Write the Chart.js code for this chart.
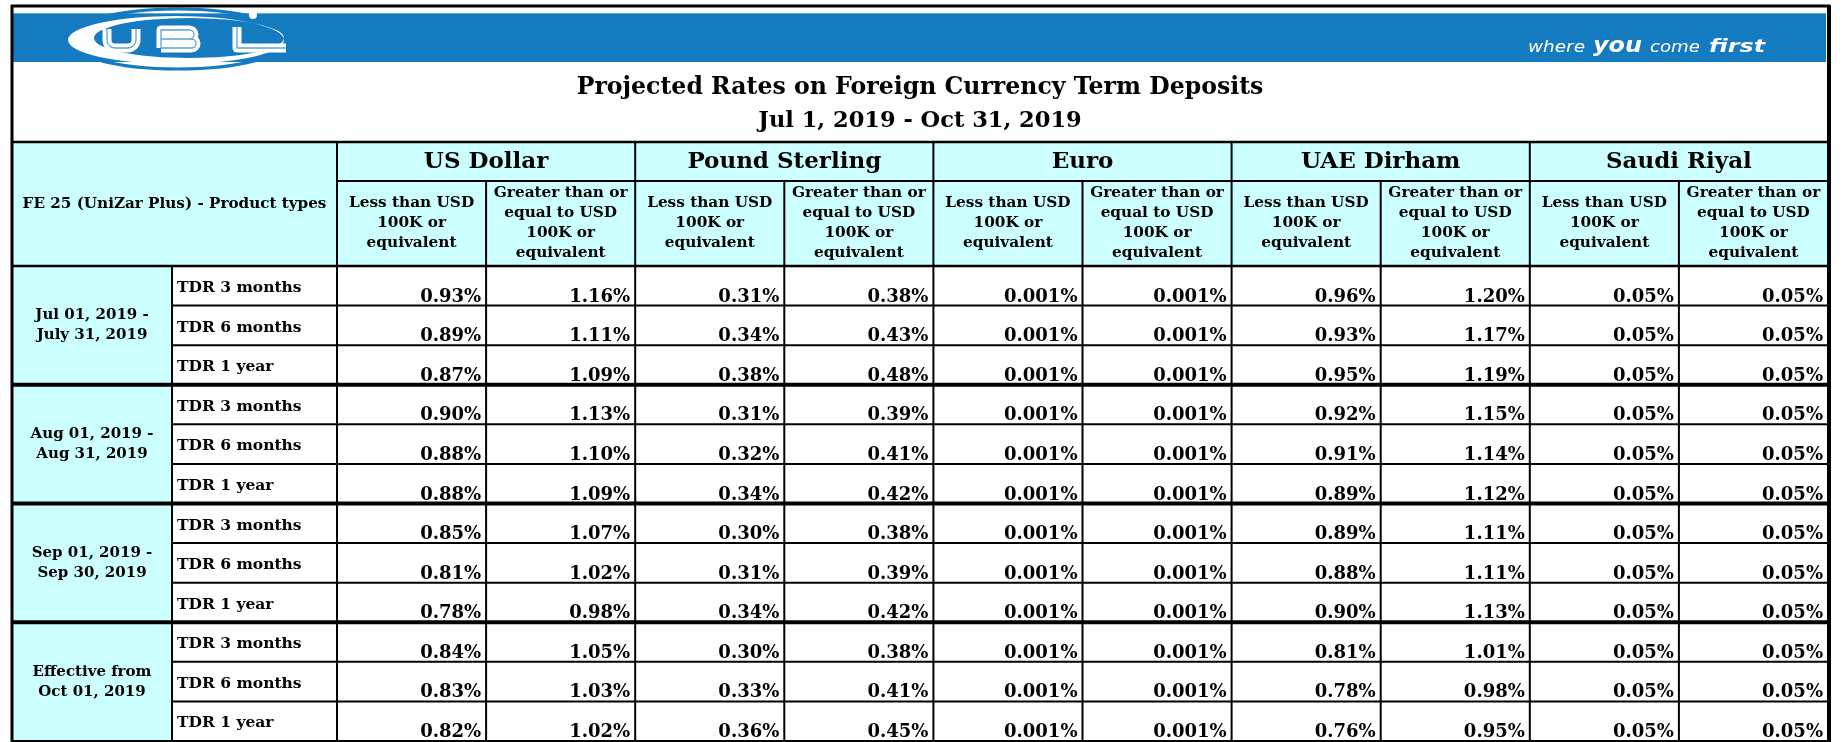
<!DOCTYPE html>
<html>
<head>
<meta charset="utf-8">
<script src="https://cdn.jsdelivr.net/npm/chart.js@4.4.1/dist/chart.umd.min.js"></script>
<style>
  html, body { margin: 0; padding: 0; background: #fff; }
  canvas { display: block; }
</style>
</head>
<body>
<canvas id="chart-1" width="1843" height="742"></canvas>
<script>
// Table data
const title = "Projected Rates on Foreign Currency Term Deposits";
const subtitle = "Jul 1, 2019 - Oct 31, 2019";
const cornerLabel = "FE 25 (UniZar Plus) - Product types";
const currencies = ["US Dollar", "Pound Sterling", "Euro", "UAE Dirham", "Saudi Riyal"];
const tiers = [
  ["Less than USD", "100K or", "equivalent"],
  ["Greater than or", "equal to USD", "100K or", "equivalent"],
];
const periods = [
  ["Jul 01, 2019 -", "July 31, 2019"],
  ["Aug 01, 2019 -", "Aug 31, 2019"],
  ["Sep 01, 2019 -", "Sep 30, 2019"],
  ["Effective from", "Oct 01, 2019"],
];
const tenors = ["TDR 3 months", "TDR 6 months", "TDR 1 year"];

// one array per column, 12 rows (4 periods x 3 tenors)
const usdLess = [0.93, 0.89, 0.87, 0.90, 0.88, 0.88, 0.85, 0.81, 0.78, 0.84, 0.83, 0.82];
const usdMore = [1.16, 1.11, 1.09, 1.13, 1.10, 1.09, 1.07, 1.02, 0.98, 1.05, 1.03, 1.02];
const gbpLess = [0.31, 0.34, 0.38, 0.31, 0.32, 0.34, 0.30, 0.31, 0.34, 0.30, 0.33, 0.36];
const gbpMore = [0.38, 0.43, 0.48, 0.39, 0.41, 0.42, 0.38, 0.39, 0.42, 0.38, 0.41, 0.45];
const eurLess = [0.001, 0.001, 0.001, 0.001, 0.001, 0.001, 0.001, 0.001, 0.001, 0.001, 0.001, 0.001];
const eurMore = [0.001, 0.001, 0.001, 0.001, 0.001, 0.001, 0.001, 0.001, 0.001, 0.001, 0.001, 0.001];
const aedLess = [0.96, 0.93, 0.95, 0.92, 0.91, 0.89, 0.89, 0.88, 0.90, 0.81, 0.78, 0.76];
const aedMore = [1.20, 1.17, 1.19, 1.15, 1.14, 1.12, 1.11, 1.11, 1.13, 1.01, 0.98, 0.95];
const sarLess = [0.05, 0.05, 0.05, 0.05, 0.05, 0.05, 0.05, 0.05, 0.05, 0.05, 0.05, 0.05];
const sarMore = [0.05, 0.05, 0.05, 0.05, 0.05, 0.05, 0.05, 0.05, 0.05, 0.05, 0.05, 0.05];

const columns = [usdLess, usdMore, gbpLess, gbpMore, eurLess, eurMore, aedLess, aedMore, sarLess, sarMore];

const BLUE = "#157bc0";
const CYAN = "#ccffff";
const SERIF = '"DejaVu Serif", serif';

let fmt = (v) => (v < 0.01 ? v.toFixed(3) : v.toFixed(2)) + "%";

let line = (ctx, x1, y1, x2, y2, w) => {
  ctx.beginPath();
  ctx.lineWidth = w;
  ctx.strokeStyle = "#000";
  ctx.moveTo(x1, y1);
  ctx.lineTo(x2, y2);
  ctx.stroke();
};

let word = (ctx, text, font, left, width, base) => {
  ctx.save();
  ctx.font = font;
  let w = ctx.measureText(text).width;
  ctx.translate(left, base);
  ctx.scale(width / w, 1);
  ctx.textAlign = "left";
  ctx.textBaseline = "alphabetic";
  ctx.fillText(text, 0, 0);
  ctx.restore();
};

let drawBanner = (ctx) => {
  // blue band
  ctx.fillStyle = BLUE;
  ctx.fillRect(12, 13, 1814, 49);
  ctx.fillStyle = "rgba(255,255,255,0.35)";
  ctx.fillRect(12, 13, 1814, 1);

  // logo ring
  ctx.save();
  ctx.beginPath();
  ctx.ellipse(178, 39, 112, 30, 0, 0, Math.PI * 2);
  ctx.lineWidth = 3;
  ctx.strokeStyle = BLUE;
  ctx.stroke();
  ctx.restore();

  // white crescent
  ctx.save();
  ctx.beginPath();
  ctx.rect(12, 13, 400, 49);
  ctx.clip();
  ctx.beginPath();
  ctx.ellipse(176, 40, 108, 24, 0, 0, Math.PI * 2);
  ctx.ellipse(189, 38, 95, 20, 0, 0, Math.PI * 2);
  ctx.fillStyle = "#fff";
  ctx.fill("evenodd");
  ctx.restore();

  // UBL letters: white strokes with a thin blue inline
  let letters = () => {
    ctx.beginPath();
    ctx.moveTo(107, 29);
    ctx.lineTo(107, 40);
    ctx.arcTo(107, 48, 115, 48, 8);
    ctx.lineTo(128, 48);
    ctx.arcTo(136, 48, 136, 40, 8);
    ctx.lineTo(136, 29);
    ctx.moveTo(161, 48);
    ctx.lineTo(161, 30);
    ctx.lineTo(189, 30);
    ctx.arcTo(194, 30, 194, 34.5, 4.5);
    ctx.arcTo(194, 39, 189, 39, 4.5);
    ctx.lineTo(161, 39);
    ctx.moveTo(189, 39);
    ctx.lineTo(191, 39);
    ctx.arcTo(196, 39, 196, 43.5, 4.5);
    ctx.arcTo(196, 48, 191, 48, 4.5);
    ctx.lineTo(161, 48);
    ctx.moveTo(237, 27);
    ctx.lineTo(237, 48);
    ctx.lineTo(286, 48);
  };
  ctx.save();
  ctx.lineJoin = "round";
  letters();
  ctx.lineWidth = 9;
  ctx.strokeStyle = "#fff";
  ctx.stroke();
  letters();
  ctx.lineWidth = 1.3;
  ctx.strokeStyle = "#5aa3d8";
  ctx.stroke();
  ctx.beginPath();
  ctx.arc(253, 15, 4, 0, Math.PI * 2);
  ctx.fillStyle = "#fff";
  ctx.fill();
  ctx.restore();

  // tagline
  ctx.fillStyle = "#fff";
  word(ctx, "where", 'italic 16px "DejaVu Sans"', 1528, 57, 52);
  word(ctx, "you", 'italic bold 22px "DejaVu Sans"', 1593, 49, 52);
  word(ctx, "come", 'italic 16px "DejaVu Sans"', 1650, 50, 52);
  word(ctx, "first", 'italic bold 18px "DejaVu Sans"', 1709, 56, 52);
};

const tablePlugin = {
  id: "tablePlugin",
  beforeDraw(chart) {
    const ctx = chart.ctx;
    ctx.save();
    ctx.fillStyle = "#fff";
    ctx.fillRect(0, 0, chart.width, chart.height);
    ctx.restore();
  },
  afterDraw(chart) {
    const ctx = chart.ctx;
    const xs = chart.scales.x;
    const ys = chart.scales.y;
    const colX = (c) => xs.getPixelForValue(c);
    const rowY = (r) => ys.getPixelForValue(r);
    const L = 12, R = colX(columns.length), split = 172, dataLeft = colX(0);
    const headTop = 142, headMid = 181, headBot = rowY(0), B = rowY(tenors.length * periods.length);

    ctx.save();
    drawBanner(ctx);

    // titles
    ctx.fillStyle = "#000";
    ctx.textAlign = "center";
    ctx.textBaseline = "middle";
    ctx.font = "bold 23.6px " + SERIF;
    ctx.fillText(title, (L + R) / 2, 88);
    ctx.font = "bold 22.5px " + SERIF;
    ctx.fillText(subtitle, (L + R) / 2, 121);

    // cyan header and period cells
    ctx.fillStyle = CYAN;
    ctx.fillRect(L, headTop, R - L, headBot - headTop);
    ctx.fillRect(L, headBot, split - L, B - headBot);

    // header text
    ctx.fillStyle = "#000";
    ctx.font = "bold 15.2px " + SERIF;
    ctx.fillText(cornerLabel, (L + dataLeft) / 2, (headTop + headBot) / 2);
    currencies.forEach((name, i) => {
      ctx.font = "bold 23px " + SERIF;
      ctx.fillText(name, colX(i * 2 + 1), (headTop + headMid) / 2 + 1);
      tiers.forEach((lines, t) => {
        ctx.font = "bold 15.3px " + SERIF;
        let cx = colX(i * 2 + t + 0.5);
        let cy = (headMid + headBot) / 2;
        lines.forEach((s, k) => {
          ctx.fillText(s, cx, cy + (k - (lines.length - 1) / 2) * 20);
        });
      });
    });

    // period and tenor labels
    periods.forEach((lines, p) => {
      let top = rowY(p * 3), bot = rowY(p * 3 + 3);
      ctx.textAlign = "center";
      ctx.textBaseline = "middle";
      ctx.font = "bold 15px " + SERIF;
      lines.forEach((s, k) => {
        ctx.fillText(s, (L + split) / 2, (top + bot) / 2 + (k - 0.5) * 20);
      });
      tenors.forEach((s, t) => {
        ctx.textAlign = "left";
        ctx.textBaseline = "alphabetic";
        ctx.font = "bold 15.5px " + SERIF;
        ctx.fillText(s, split + 5, rowY(p * 3 + t) + 26);
      });
    });

    // cell values at each point of the datasets
    ctx.font = "bold 18px " + SERIF;
    ctx.textAlign = "right";
    ctx.textBaseline = "alphabetic";
    chart.data.datasets.forEach((ds, d) => {
      chart.getDatasetMeta(d).data.forEach((pt, i) => {
        let half = (colX(1) - colX(0)) / 2;
        let halfH = (rowY(1) - rowY(0)) / 2;
        ctx.fillText(fmt(ds.data[i].v), pt.x + half - 5, pt.y + halfH - 4);
      });
    });

    // grid lines
    line(ctx, L, headTop, R, headTop, 2.5);
    line(ctx, dataLeft, headMid, R, headMid, 2);
    line(ctx, L, headBot, R, headBot, 2.5);
    for (let c = 0; c < columns.length; c++) {
      line(ctx, colX(c), c % 2 === 0 ? headTop : headMid, colX(c), B, 2);
    }
    line(ctx, split, headBot, split, B, 2);
    for (let r = 1; r < tenors.length * periods.length; r++) {
      if (r % 3 === 0) line(ctx, L, rowY(r), R, rowY(r), 4);
      else line(ctx, split, rowY(r), R, rowY(r), 2);
    }
    line(ctx, L, B, R, B, 2);

    // outer frame
    line(ctx, L - 1, 6, R + 2, 6, 3);
    line(ctx, L, 5, L, chart.height, 3);
    line(ctx, R + 1, 5, R + 1, chart.height, 4);
    ctx.restore();
  },
};

const ctx1 = document.getElementById("chart-1");
const myChart1 = new Chart(ctx1, {
  type: "scatter",
  data: {
    datasets: columns.map((vals, c) => ({
      label: currencies[Math.floor(c / 2)] + " " + (c % 2 ? "greater" : "less"),
      data: vals.map((v, r) => ({ x: c + 0.5, y: r + 0.5, v: v })),
      pointRadius: 0,
      pointHoverRadius: 0,
    })),
  },
  options: {
    responsive: false,
    animation: false,
    devicePixelRatio: 1,
    layout: {
      padding: { left: 337, right: 15, top: 266, bottom: 1 },
    },
    scales: {
      x: { type: "linear", min: 0, max: 10, display: false },
      y: { type: "linear", min: 0, max: 12, reverse: true, display: false },
    },
    plugins: {
      legend: { display: false },
      tooltip: { enabled: false },
    },
  },
  plugins: [tablePlugin],
});
</script>
</body>
</html>
